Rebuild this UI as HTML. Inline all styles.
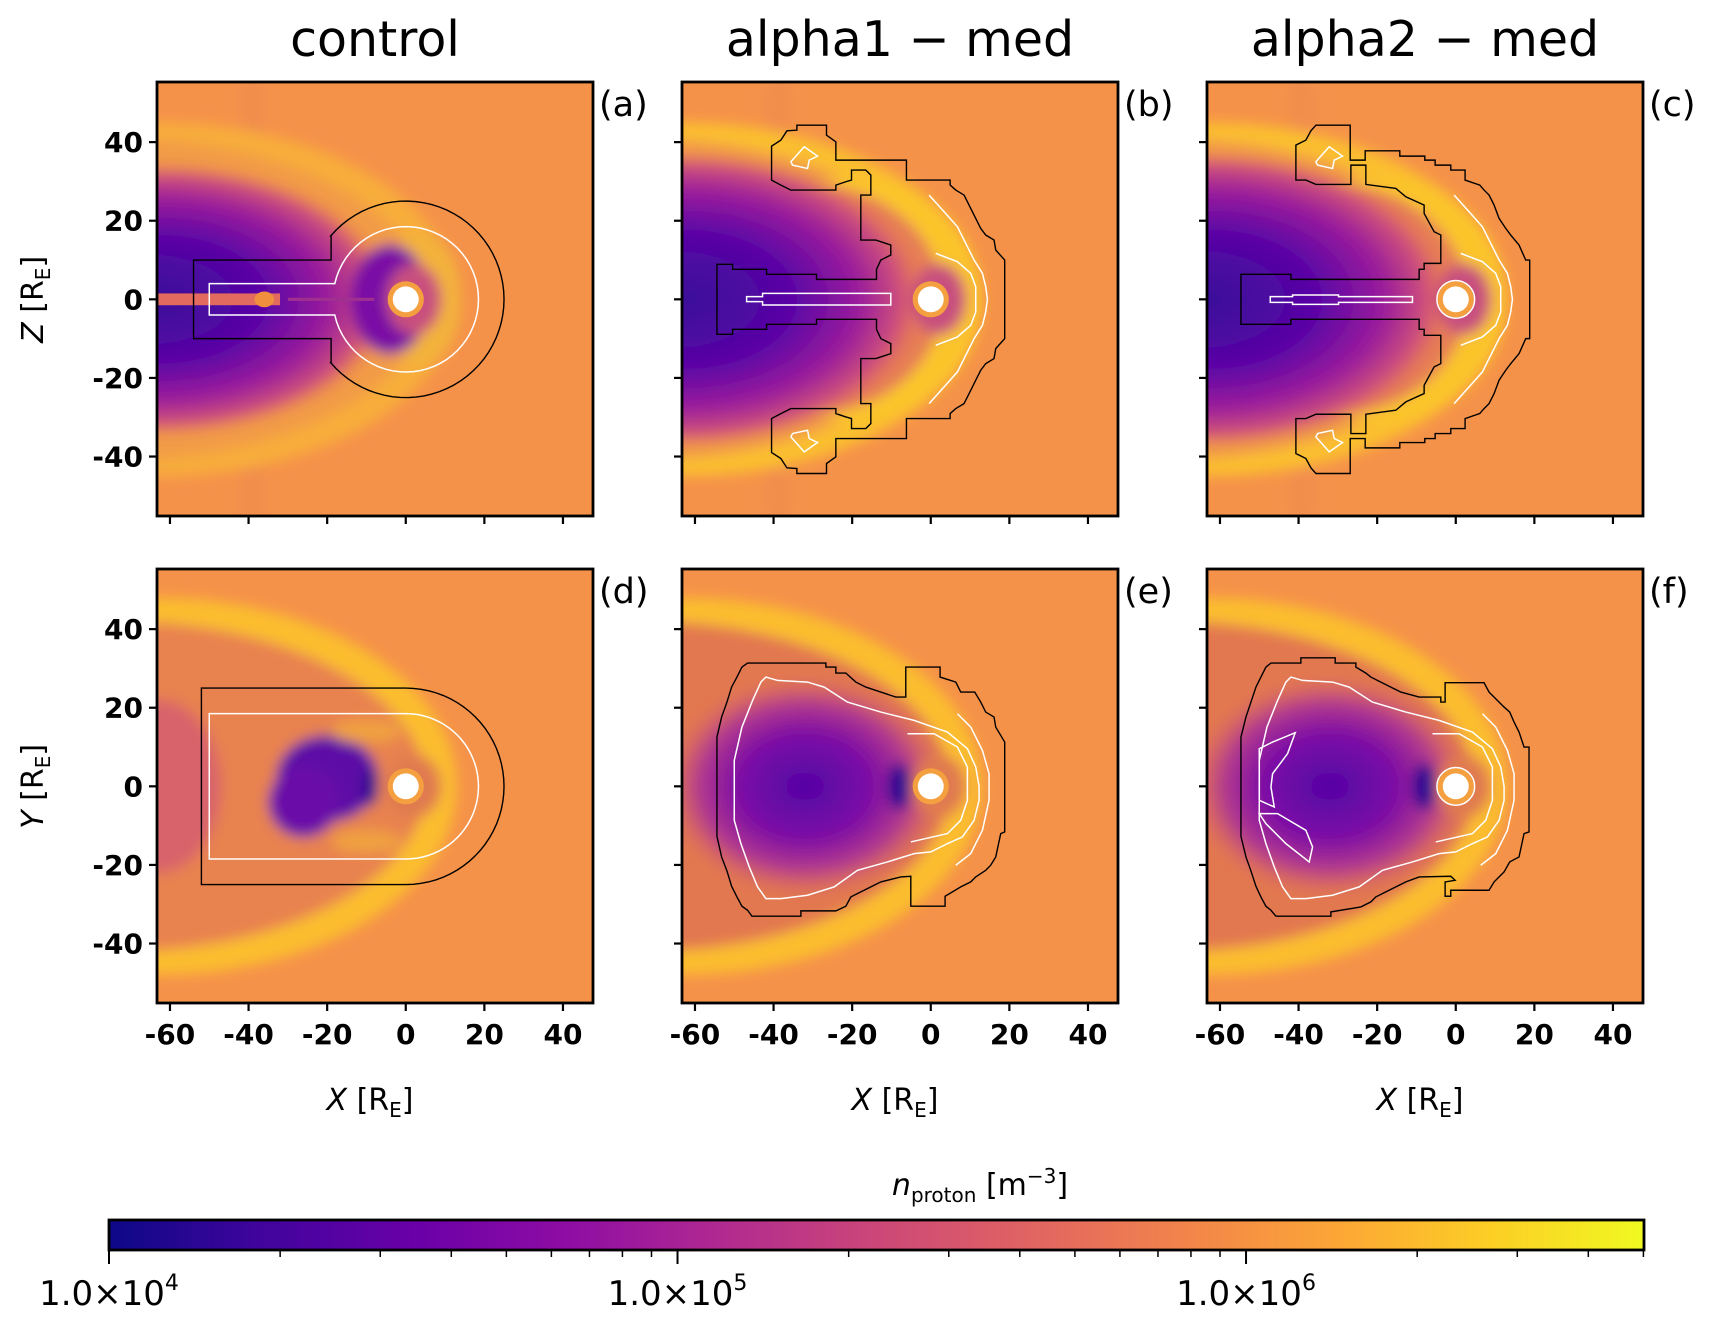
<!DOCTYPE html>
<html><head><meta charset="utf-8"><style>
html,body{margin:0;padding:0;background:#fff;}
svg{display:block;font-family:"DejaVu Sans","Liberation Sans",sans-serif;}
</style></head><body>
<svg id="fig" width="1720" height="1324" viewBox="0 0 1720 1324" xmlns="http://www.w3.org/2000/svg">
<defs>
<filter id="blur" x="-20%" y="-20%" width="140%" height="140%"><feGaussianBlur stdDeviation="1.6"/></filter>
<radialGradient id="purpTop" cx="0.5" cy="0.5" r="0.5">
<stop offset="0" stop-color="#3a0a9a"/><stop offset="0.45" stop-color="#5a05a6"/><stop offset="0.72" stop-color="#9a1c9c"/><stop offset="0.9" stop-color="#d0527a"/><stop offset="1" stop-color="#e8754f" stop-opacity="0"/>
</radialGradient>
<radialGradient id="purpBot" cx="0.5" cy="0.5" r="0.5">
<stop offset="0" stop-color="#5205a5"/><stop offset="0.45" stop-color="#7a0aa6"/><stop offset="0.75" stop-color="#b23a8e"/><stop offset="1" stop-color="#d8606c" stop-opacity="0"/>
</radialGradient>
<linearGradient id="plasma" x1="0" x2="1" y1="0" y2="0">
<stop offset="0" stop-color="#0d0887"/><stop offset="0.1" stop-color="#41049d"/><stop offset="0.2" stop-color="#6a00a8"/><stop offset="0.3" stop-color="#8f0da4"/><stop offset="0.4" stop-color="#b12a90"/><stop offset="0.5" stop-color="#cc4778"/><stop offset="0.6" stop-color="#e16462"/><stop offset="0.7" stop-color="#f2844b"/><stop offset="0.8" stop-color="#fca636"/><stop offset="0.9" stop-color="#fcce25"/><stop offset="1" stop-color="#f0f921"/>
</linearGradient>
</defs>
</svg>
<script>
const NS='http://www.w3.org/2000/svg';
const svg=document.getElementById('fig');
// axis data
const xTicks=[-60,-40,-20,0,20,40];
const yTicks=[-40,-20,0,20,40];
const xRange=[-63.3,47.5];
const yRange=[-55,55.3];
const cbTickExps=[4,5,6];
const cbTickLabels=['1.0×10','1.0×10','1.0×10'];
const cbRange=[4,6.7];
const titles=['control','alpha1 − med','alpha2 − med'];
const panelLetters=['(a)','(b)','(c)','(d)','(e)','(f)'];
const S=3.93;
const colsX=[157,682,1207];
const rowsY=[82,569];
const PW=436, PH=434;

function el(tag,attrs,parent){const e=document.createElementNS(NS,tag);for(const k in attrs)e.setAttribute(k,attrs[k]);(parent||svg).appendChild(e);return e;}
function sx(c,x){return colsX[c]+(x-xRange[0])*S;}
function sy(r,y){return rowsY[r]+(yRange[1]-y)*S;}
function zd(p){return [(p[0]-750)/11.8,(658-p[1])/11.8];}
function mirrorHalf(up){const lo=up.slice().reverse().map(p=>[p[0],1316-p[1]]);return up.concat(lo);}
function pathZ(pts,close){return 'M'+pts.map(p=>{const d=zd(p);return d[0].toFixed(2)+','+d[1].toFixed(2);}).join(' L')+(close?' Z':'');}
function pathD(pts,close){return 'M'+pts.map(p=>p[0].toFixed(2)+','+p[1].toFixed(2)).join(' L')+(close?' Z':'');}
function arcPts(r,a0,a1,n){const o=[];for(let i=0;i<=n;i++){const a=(a0+(a1-a0)*i/n)*Math.PI/180;o.push([r*Math.cos(a),r*Math.sin(a)]);}return o;}

const bBlackUp=[[108,658],[108,553],[155,553],[155,568],[257,568],[257,583],[407,583],[407,598],[587,598],[587,568],[600,540],[630,525],[630,495],[585,480],[540,480],[540,345],[570,345],[570,285],[555,270],[512,270],[512,300],[495,305],[465,315],[465,330],[330,330],[300,315],[272,300],[272,198],[300,180],[318,152],[348,150],[348,135],[437,135],[437,165],[465,185],[465,240],[677,240],[677,300],[808,300],[808,315],[825,330],[850,345],[870,385],[885,415],[900,445],[915,465],[940,480],[945,510],[972,540],[972,658]];
const cBlackUp=[[105,658],[105,583],[255,583],[255,598],[640,598],[640,568],[655,568],[655,550],[705,550],[705,465],[685,455],[655,400],[655,375],[600,350],[570,325],[480,313],[480,255],[435,255],[435,313],[330,313],[300,300],[270,300],[270,195],[300,180],[315,152],[330,135],[433,135],[433,240],[478,240],[478,212],[582,212],[582,228],[657,228],[657,240],[688,240],[688,255],[735,255],[735,270],[778,270],[778,300],[822,315],[835,330],[850,345],[865,375],[880,415],[900,445],[915,465],[940,495],[960,540],[972,540],[972,658]];
const eBlack=[[108,658],[108,510],[122,450],[138,405],[152,360],[168,330],[183,300],[200,288],[435,288],[435,300],[465,300],[465,318],[495,318],[525,345],[555,360],[600,375],[645,390],[675,390],[675,300],[778,300],[778,330],[825,345],[840,375],[882,375],[900,405],[915,435],[940,450],[945,480],[972,525],[972,795],[960,800],[945,870],[930,895],[915,910],[885,930],[870,945],[840,960],[793,988],[793,1018],[690,1018],[690,928],[660,930],[600,945],[570,960],[540,975],[510,990],[495,1018],[465,1032],[360,1032],[360,1048],[213,1048],[200,1030],[183,1018],[168,990],[152,958],[138,912],[122,870],[108,808]];
const fBlack=[[105,658],[105,510],[120,450],[135,405],[150,360],[165,330],[180,300],[195,288],[285,288],[285,272],[388,272],[388,288],[450,288],[450,300],[480,318],[495,330],[525,345],[555,360],[585,375],[640,390],[705,390],[705,405],[718,405],[718,347],[835,347],[850,375],[865,390],[895,420],[912,435],[925,465],[940,495],[955,540],[970,540],[970,795],[955,800],[940,870],[912,885],[895,915],[865,945],[850,970],[735,970],[735,988],[718,988],[718,945],[748,940],[735,928],[640,930],[600,945],[570,960],[540,975],[510,990],[495,1005],[465,1020],[375,1035],[375,1048],[210,1048],[195,1030],[180,1018],[165,990],[150,958],[135,912],[120,870],[105,808]];
const bStem=[[197,650],[245,650],[245,640],[630,640],[630,675],[245,675],[245,665],[197,665]];
const cStem=[[193,650],[260,650],[260,645],[398,645],[398,650],[620,650],[620,667],[398,667],[398,673],[260,673],[260,667],[193,667]];
const arcOuterUp=[[745,345],[790,395],[830,440],[860,500],[880,540],[905,580],[915,620],[920,658]];
const arcInnerUp=[[765,520],[830,545],[870,580],[885,620],[885,658]];
const lobeWhite=[[330,245],[370,200],[410,228],[385,240],[380,265],[335,255]];
const eWhite=[[160,658],[160,580],[183,480],[215,400],[240,345],[255,330],[290,340],[380,345],[430,360],[500,405],[600,435],[700,460],[800,495],[860,545],[885,600],[895,658],[895,700],[880,760],[845,810],[800,830],[750,855],[700,860],[620,885],[530,910],[460,960],[380,985],[300,995],[255,995],[230,960],[205,900],[180,830],[160,760]];
const eShock=[[830,440],[870,480],[905,550],[925,620],[925,700],[905,790],[870,860],[825,895]];
const eInner=[[680,500],[760,500],[830,540],[860,600],[860,700],[840,760],[800,800],[690,825]];
const fLeft1=[[160,585],[160,545],[200,525],[268,497],[245,560],[200,620],[195,660],[205,720],[160,700]];
const fLeft2=[[160,740],[215,740],[300,790],[320,840],[310,885],[240,830],[180,770]];

function panel(r,c){
  const i=r*3+c;
  const g=el('g',{});
  
  
  const cid='clip'+i;
  const cp=el('clipPath',{id:cid},g);
  el('rect',{x:colsX[c],y:rowsY[r],width:PW,height:PH},cp);
  const inner=el('g',{'clip-path':'url(#'+cid+')'},g);
  el('rect',{x:colsX[c],y:rowsY[r],width:PW,height:PH,fill:'#f5924a'},inner);
  const d=el('g',{transform:`translate(${sx(c,0)},${sy(r,0)}) scale(${S},${-S})`},inner);
  const bg=el('g',{filter:'url(#blur)'},d);
  if(r===0){
    el('rect',{x:-42,y:-56,width:6,height:112,fill:'#ef8a4e',opacity:0.6},bg);
    el('ellipse',{cx:-63,cy:0,rx:76,ry:45,fill:c===0?'#f8ad3a':'#fbbf2e'},bg);
    el('ellipse',{cx:-74,cy:0,rx:79,ry:41,fill:'#f29b47'},bg);
    if(c>0) el('ellipse',{cx:-20,cy:0,rx:33,ry:31,fill:'#fbc52c'},bg);
    if(c>0) el('ellipse',{cx:-30,cy:0,rx:33,ry:29,fill:'#e67f55'},bg);
    el('ellipse',{cx:-63,cy:0,rx:c===0?60:62,ry:c===0?35:38,fill:'url(#purpTop)'},bg);
    if(c===0){
      el('ellipse',{cx:4,cy:0,rx:10,ry:17,fill:'#f3b23a'},bg);
      el('ellipse',{cx:-4,cy:0,rx:10,ry:14,fill:'#7a0aa5'},bg);
    }
    el('ellipse',{cx:2,cy:0,rx:7,ry:9,fill:'#c8507e'},bg);
    if(c===0){
      el('rect',{x:-64,y:-1.5,width:32,height:3,fill:'#e36a5e'},d);
      el('ellipse',{cx:-36,cy:0,rx:2.5,ry:2,fill:'#f0903f'},d);
      el('rect',{x:-30,y:-0.4,width:22,height:0.8,fill:'#a0308f'},d);
    }
  } else {
    el('ellipse',{cx:-63,cy:0,rx:76,ry:48,fill:'#fbbd2d'},bg);
    el('ellipse',{cx:-73,cy:0,rx:78,ry:42,fill:c===0?'#e8824f':'#e2784f'},bg);
    if(c===0){
      el('ellipse',{cx:-63,cy:0,rx:16,ry:22,fill:'#d8636a'},bg);
      el('ellipse',{cx:-20,cy:2,rx:13,ry:11,fill:'#5d0aa6'},bg);
      el('ellipse',{cx:-26,cy:-4,rx:9,ry:9,fill:'#6a0aa8'},bg);
      el('ellipse',{cx:-9,cy:0,rx:2,ry:5,fill:'#2a0a90'},bg);
      el('ellipse',{cx:-10,cy:14,rx:9,ry:3,fill:'#f0a040'},bg);
      el('ellipse',{cx:-10,cy:-14,rx:9,ry:3,fill:'#f0a040'},bg);
    } else {
      el('ellipse',{cx:-32,cy:0,rx:36,ry:28,fill:'url(#purpBot)'},bg);
      el('ellipse',{cx:-8,cy:0,rx:3,ry:6,fill:'#2c0a92'},bg);
    }
    el('ellipse',{cx:2,cy:0,rx:7,ry:8,fill:'#e07a50'},bg);
  }
  el('circle',{cx:0,cy:0,r:4.6,fill:'#f4a040'},d);
  const pl=el('circle',{cx:0,cy:0,r:3.3,fill:'#ffffff'},d);
  
  
  const bk={fill:'none',stroke:'#000','stroke-width':1.4,'vector-effect':'non-scaling-stroke'};
  const wt={fill:'none',stroke:'#fff','stroke-width':1.5,'vector-effect':'non-scaling-stroke'};
  const cg=el('g',{},d);
  
  
  function P(dstr,st){const a=Object.assign({d:dstr},st);return el('path',a,cg);}
  if(i===0){
    const ar=arcPts(25,180-40,-(180-40),60);
    P(pathD([[-54,-10],[-54,10],[-19,10],[-19,16]].concat(ar).concat([[-19,-16],[-19,-10]]),true),bk);
    const wr=arcPts(18.5,180-12.5,-(180-12.5),60);
    P(pathD([[-50,-4],[-50,4]].concat(wr).concat([[-50,-4]]),true),wt);
  } else if(i===3){
    P(pathD([[-52,-25],[-52,25],[0,25]].concat(arcPts(25,90,-90,40)).concat([[0,-25]]),true),bk);
    P(pathD([[-50,-18.5],[-50,18.5],[0,18.5]].concat(arcPts(18.5,90,-90,40)).concat([[0,-18.5]]),true),wt);
  } else if(i===1||i===2){
    P(pathZ(mirrorHalf(i===1?bBlackUp:cBlackUp),true),bk);
    P(pathZ(i===1?bStem:cStem,true),wt);
    P(pathZ(mirrorHalf(arcOuterUp),false),wt);
    P(pathZ(mirrorHalf(arcInnerUp),false),wt);
    P(pathZ(lobeWhite,true),wt);
    P(pathZ(lobeWhite.map(p=>[p[0],1316-p[1]]),true),wt);
    if(i===2) el('circle',{cx:0,cy:0,r:4.8,fill:'none',stroke:'#fff','stroke-width':1.5,'vector-effect':'non-scaling-stroke'},cg);
  } else {
    P(pathZ(i===4?eBlack:fBlack,true),bk);
    P(pathZ(eWhite,true),wt);
    P(pathZ(eShock,false),wt);
    P(pathZ(eInner,false),wt);
    if(i===5){P(pathZ(fLeft1,true),wt);P(pathZ(fLeft2,true),wt);
      el('circle',{cx:0,cy:0,r:4.8,fill:'none',stroke:'#fff','stroke-width':1.5,'vector-effect':'non-scaling-stroke'},cg);}
  }
  const fr=el('rect',{x:colsX[c],y:rowsY[r],width:PW,height:PH,fill:'none',stroke:'#000','stroke-width':2.8},g);
  
  
  yTicks.forEach(v=>{
    const y=sy(r,v);
    const t=el('line',{x1:colsX[c]-8,x2:colsX[c],y1:y,y2:y,stroke:'#000','stroke-width':2.2},g);
    
    
    if(c===0){
      const tx=el('text',{x:colsX[c]-14,y:y+10,'text-anchor':'end','font-size':28,'font-weight':'bold'},g);
      tx.textContent=v;
      
      
    }
  });
  xTicks.forEach(v=>{
    const x=sx(c,v);
    const yb=rowsY[r]+PH;
    const t=el('line',{x1:x,x2:x,y1:yb,y2:yb+8,stroke:'#000','stroke-width':2.2},g);
    
    
    if(r===1){
      const tx=el('text',{x:x,y:yb+41,'text-anchor':'middle','font-size':28,'font-weight':'bold'},g);
      tx.textContent=v;
      
      
    }
  });
  const lt=el('text',{x:colsX[c]+PW+6,y:rowsY[r]+34,'font-size':35},g);
  lt.textContent=panelLetters[i];
  
  
  if(r===0){
    const tt=el('text',{x:colsX[c]+PW/2,y:56,'text-anchor':'middle','font-size':49},g);
    tt.textContent=titles[c];
    
    
  } else {
    const xl=el('text',{x:colsX[c]+PW/2-5,y:1110,'text-anchor':'middle','font-size':30},g);
    xl.innerHTML='<tspan font-style="italic">X</tspan> [R<tspan font-size="20" dy="7">E</tspan><tspan dy="-7">]</tspan>';
    
    
  }
}
for(let r=0;r<2;r++)for(let c=0;c<3;c++)panel(r,c);

[['Z',sy(0,0)],['Y',sy(1,0)]].forEach(a=>{
  const t=el('text',{x:0,y:0,'text-anchor':'middle','font-size':30,transform:`translate(43,${a[1]}) rotate(-90)`});
  t.innerHTML='<tspan font-style="italic">'+a[0]+'</tspan> [R<tspan font-size="20" dy="7">E</tspan><tspan dy="-7">]</tspan>';
  
  
});

const cbX0=109,cbX1=1644,cbY=1220,cbH=30;
function cbx(e){return cbX0+(e-cbRange[0])/(cbRange[1]-cbRange[0])*(cbX1-cbX0);}
const cb=el('rect',{x:cbX0,y:cbY,width:cbX1-cbX0,height:cbH,fill:'url(#plasma)',stroke:'#000','stroke-width':2.8});


for(let e=4;e<7;e++){for(let m=2;m<=9;m++){const v=e+Math.log10(m);if(v>cbRange[1])break;const x=cbx(v);
  const t=el('line',{x1:x,x2:x,y1:cbY+cbH,y2:cbY+cbH+7,stroke:'#000','stroke-width':1.5});
  
  }}
cbTickExps.forEach((e,k)=>{
  const x=cbx(e);
  const t=el('line',{x1:x,x2:x,y1:cbY+cbH,y2:cbY+cbH+14,stroke:'#000','stroke-width':2});
  
  
  const tx=el('text',{x:x,y:1305,'text-anchor':'middle','font-size':34});
  tx.innerHTML=cbTickLabels[k]+'<tspan font-size="22" dy="-15">'+e+'</tspan>';
  
  
});
const cl=el('text',{x:980,y:1195,'text-anchor':'middle','font-size':30});
cl.innerHTML='<tspan font-style="italic">n</tspan><tspan font-size="20" dy="7">proton</tspan><tspan dy="-7"> [m</tspan><tspan font-size="20" dy="-12">−3</tspan><tspan dy="12">]</tspan>';


</script>
</body></html>
